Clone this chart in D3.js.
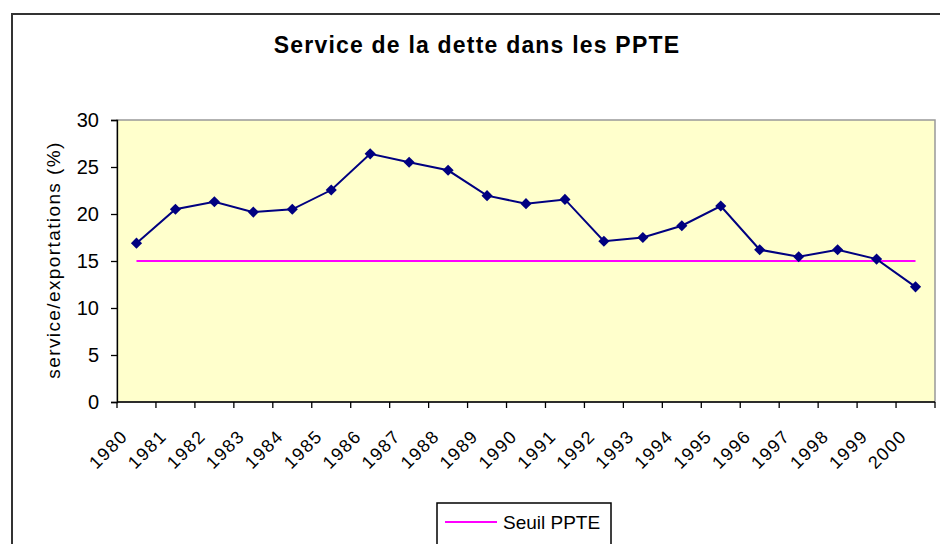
<!DOCTYPE html>
<html>
<head>
<meta charset="utf-8">
<script src="https://cdn.jsdelivr.net/npm/d3@7"></script>
<style>
  body { margin: 0; background: #fff; }
  text { font-family: "Liberation Sans", Arial, sans-serif; fill: #000; }
</style>
</head>
<body>
<div id="chart"></div>
<script>
// Data
var years = ["1980", "1981", "1982", "1983", "1984", "1985", "1986", "1987", "1988", "1989", "1990",
             "1991", "1992", "1993", "1994", "1995", "1996", "1997", "1998", "1999", "2000"];
var service = [16.9, 20.5, 21.3, 20.2, 20.5, 22.55, 26.4, 25.5, 24.65, 21.95, 21.1,
               21.55, 17.1, 17.5, 18.75, 20.85, 16.2, 15.45, 16.2, 15.2, 12.25];
var seuil = [15, 15, 15, 15, 15, 15, 15, 15, 15, 15, 15,
             15, 15, 15, 15, 15, 15, 15, 15, 15, 15];
var yTicks = [0, 5, 10, 15, 20, 25, 30];

var W = 940, H = 544;
var plot = { left: 117, top: 120, right: 935, bottom: 402 };

var svg = d3.select("#chart").append("svg")
    .attr("width", W)
    .attr("height", H);

// outer chart frame (runs off right and bottom edges)
svg.append("rect")
    .attr("x", 12).attr("y", 14)
    .attr("width", 960).attr("height", 560)
    .style("fill", "#fff")
    .style("stroke", "#333")
    .style("stroke-width", 2);

var x = d3.scaleBand()
    .domain(years)
    .range([plot.left, plot.right]);

var y = d3.scaleLinear()
    .domain([0, 30])
    .range([plot.bottom, plot.top]);

function cx(d, i) { return x(years[i]) + x.bandwidth() / 2; }

// plot area
svg.append("rect")
    .attr("x", plot.left).attr("y", plot.top)
    .attr("width", plot.right - plot.left)
    .attr("height", plot.bottom - plot.top)
    .style("fill", "#FFFFCC")
    .style("stroke", "#999")
    .style("stroke-width", 1.5);

// title
svg.append("text")
    .attr("x", 477).attr("y", 53)
    .attr("text-anchor", "middle")
    .style("font-size", "23px")
    .style("font-weight", "bold")
    .style("letter-spacing", "1.2px")
    .text("Service de la dette dans les PPTE");

// y axis
var yAxis = svg.append("g")
    .attr("transform", "translate(" + plot.left + ",0)")
    .call(d3.axisLeft(y).tickValues(yTicks).tickSize(6).tickPadding(12));
yAxis.selectAll("text").style("font-size", "20px");
yAxis.selectAll("line, path").style("stroke", "#000").style("stroke-width", 1.3);

svg.append("text")
    .attr("transform", "translate(53,260) rotate(-90)")
    .attr("text-anchor", "middle")
    .attr("dy", "0.35em")
    .style("font-size", "19px")
    .style("letter-spacing", "1.4px")
    .text("service/exportations (%)");

// x axis: ticks on category boundaries
var bounds = years.map(function(d) { return x(d); }).concat([plot.right]);
svg.append("line")
    .attr("x1", plot.left).attr("x2", plot.right)
    .attr("y1", plot.bottom).attr("y2", plot.bottom)
    .style("stroke", "#000").style("stroke-width", 1.5);
svg.selectAll(".xtick").data(bounds).enter().append("line")
    .attr("class", "xtick")
    .attr("x1", function(d) { return d; }).attr("x2", function(d) { return d; })
    .attr("y1", plot.bottom).attr("y2", plot.bottom + 6)
    .style("stroke", "#000").style("stroke-width", 1.3);

svg.selectAll(".xlab").data(years).enter().append("text")
    .attr("class", "xlab")
    .attr("transform", function(d, i) {
        return "translate(" + (cx(d, i) - 12) + "," + 433 + ") rotate(-45)";
    })
    .attr("text-anchor", "end")
    .attr("dy", "0.35em")
    .style("font-size", "18px")
    .style("letter-spacing", "1.5px")
    .text(function(d) { return d; });

// threshold line
var line = d3.line()
    .x(cx)
    .y(function(d) { return y(d); });

svg.append("path")
    .datum(seuil)
    .attr("d", line)
    .style("fill", "none")
    .style("stroke", "#FF00FF")
    .style("stroke-width", 2);

// service line + diamonds
svg.append("path")
    .datum(service)
    .attr("d", line)
    .style("fill", "none")
    .style("stroke", "#000080")
    .style("stroke-width", 2);

svg.selectAll(".pt").data(service).enter().append("path")
    .attr("class", "pt")
    .attr("d", d3.symbol(d3.symbolSquare, 62))
    .attr("transform", function(d, i) {
        return "translate(" + cx(d, i) + "," + y(d) + ") rotate(45)";
    })
    .style("fill", "#000080");

// legend
var leg = svg.append("g");
leg.append("rect")
    .attr("x", 437).attr("y", 503)
    .attr("width", 174).attr("height", 60)
    .style("fill", "#fff")
    .style("stroke", "#000")
    .style("stroke-width", 1.5);
leg.append("line")
    .attr("x1", 445).attr("x2", 497)
    .attr("y1", 522).attr("y2", 522)
    .style("stroke", "#FF00FF")
    .style("stroke-width", 2);
leg.append("text")
    .attr("x", 503).attr("y", 522)
    .attr("dy", "0.35em")
    .style("font-size", "19px")
    .text("Seuil PPTE");
</script>
</body>
</html>
